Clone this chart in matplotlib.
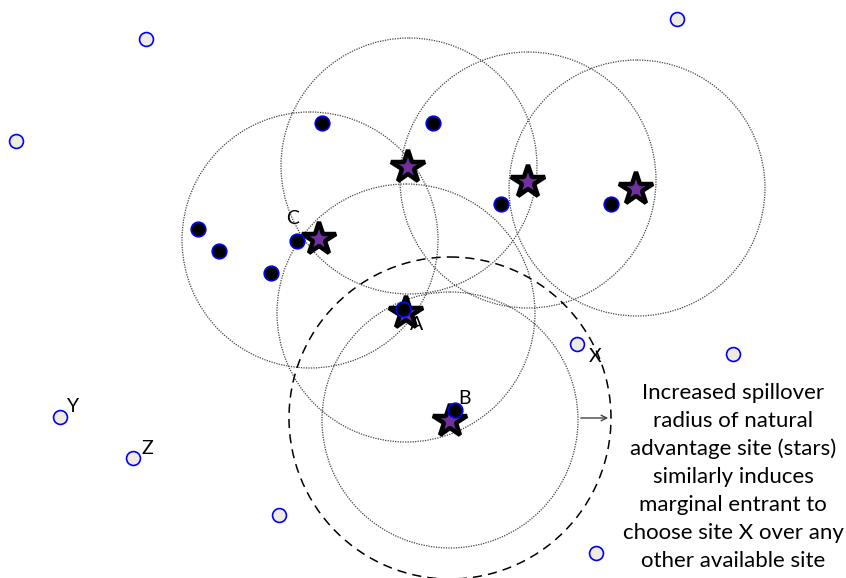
import matplotlib
matplotlib.use("Agg")
import matplotlib.pyplot as plt
from matplotlib.patches import Circle

# canvas units = reference pixels (y grows downward)
W, H = 846, 578

# natural advantage sites (stars) - also centres of the spillover circles
star_x = [408, 528, 636, 319, 406, 450]
star_y = [167, 182, 189, 239, 313, 421]

# spillover circles (dotted)
circ_x = [310, 409, 528, 637, 406, 450]
circ_y = [240, 166, 180, 188, 313, 420]
circ_r = [128, 128, 128, 128, 129, 128]

# enlarged spillover radius around B (dashed)
big_x, big_y, big_r = 450, 418, 161

# occupied sites (black dots)
dot_x = [322, 433, 501, 611, 198, 219, 271, 297, 403, 455]
dot_y = [123, 123, 204, 204, 229, 251, 273, 241, 309, 410]

# available sites (hollow)
open_x = [146, 677, 16, 577, 733, 60, 133, 279, 596]
open_y = [39, 19, 141, 344, 354, 417, 458, 515, 553]

labels = ["C", "A", "B", "X", "Y", "Z"]
lab_x = [293, 417, 464, 595, 73, 147]
lab_y = [218, 325, 399, 357, 406, 448]

note = ("Increased spillover\nradius of natural\nadvantage site (stars)\n"
        "similarly induces\nmarginal entrant to\nchoose site X over any\n"
        "other available site")

FONT = ["Lato", "DejaVu Sans"]

fig = plt.figure(figsize=(8.46, 5.78), dpi=100)
ax = fig.add_axes([0, 0, 1, 1])
ax.set_xlim(0, W)
ax.set_ylim(H, 0)
ax.axis("off")

for cx, cy, r in zip(circ_x, circ_y, circ_r):
    ax.add_patch(Circle((cx, cy), r, fill=False, ec="#444444", lw=0.9, ls=(0, (1, 1))))
ax.add_patch(Circle((big_x, big_y), big_r, fill=False, ec="black", lw=1.1, ls=(0, (6, 4))))

ax.annotate("", xy=(big_x + big_r, big_y), xytext=(circ_x[5] + circ_r[5], big_y),
            arrowprops=dict(arrowstyle="->", color="#444444", lw=1.0))

ax.plot(open_x, open_y, "o", ms=10, mfc="#eeece1", mec="blue", mew=1.2, zorder=3)
ax.plot(star_x, star_y, "*", ms=25, mfc="#7030a0", mec="black", mew=3.2, zorder=4)
ax.plot(dot_x, dot_y, "o", ms=10.5, mfc="black", mec="blue", mew=1.2, zorder=5)

for t, x, y in zip(labels, lab_x, lab_y):
    ax.text(x, y, t, fontsize=14, family=FONT, ha="center", va="center", zorder=6)

ax.text(733, 477, note, fontsize=16, family=FONT, ha="center", va="center",
        linespacing=1.5)

fig.savefig("out.png", dpi=100)
